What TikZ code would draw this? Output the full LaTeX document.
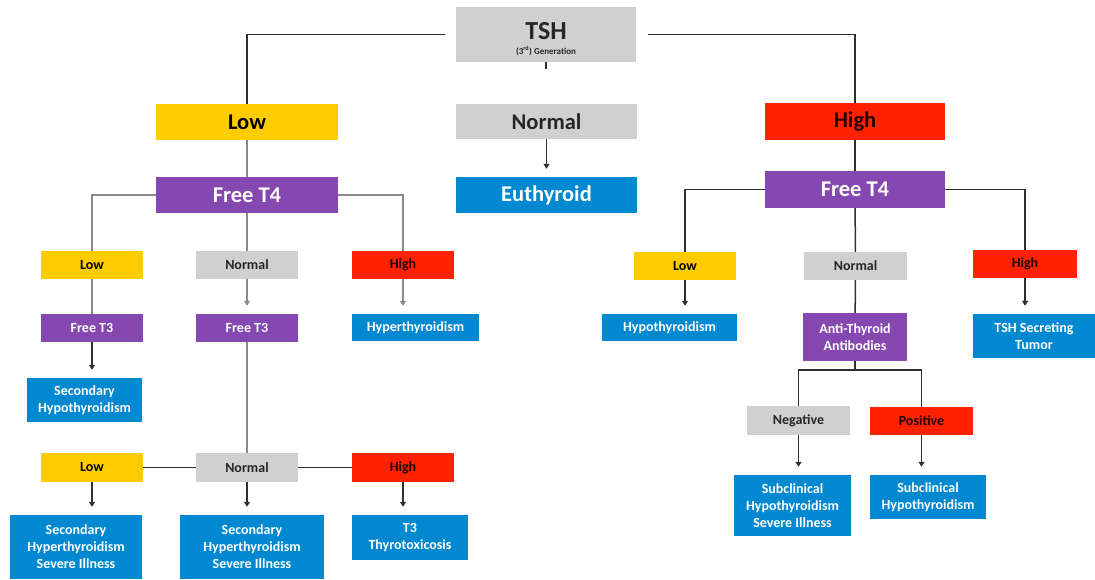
\documentclass[tikz,border=0pt]{standalone}
\usepackage{fontspec}
\setmainfont{Carlito}
\usetikzlibrary{arrows.meta}
\definecolor{cyel}{HTML}{FFCC00}
\definecolor{cgry}{HTML}{D0D0D0}
\definecolor{cred}{HTML}{FF2200}
\definecolor{cpur}{HTML}{8547B0}
\definecolor{cblu}{HTML}{0088D0}
\definecolor{lgray}{HTML}{8A8A8A}
\definecolor{ldark}{HTML}{303030}
\tikzset{
  bx/.style={inner sep=0pt, align=center, font=\bfseries},
  big/.style={bx, font=\fontsize{22.5}{24}\selectfont\bfseries},
  sml/.style={bx, font=\fontsize{14}{17}\selectfont\bfseries},
  yel/.style={fill=cyel, text=black},
  gry/.style={fill=cgry, text=black!85},
  red/.style={fill=cred, text=black!85!red},
  pur/.style={fill=cpur, text=white},
  blu/.style={fill=cblu, text=white},
  sz/.style 2 args={minimum width=#1pt, minimum height=#2pt},
  gl/.style={draw=lgray, line width=1.5pt},
  dl/.style={draw=ldark, line width=1.5pt},
  arr/.style={-{Triangle[length=5pt,width=6pt]}, shorten >=8pt},
}
\begin{document}
\begin{tikzpicture}[x=1pt, y=-1pt]
\useasboundingbox (0,0) rectangle (1095,579);
% top
\node[bx, gry, sz={180}{55}] (tsh) at (546,34.5) {\rule{0pt}{26pt}{\fontsize{26}{26}\selectfont TSH}\\[3pt]{\fontsize{9}{10}\selectfont (3\textsuperscript{rd}) Generation}};
\node[big, yel, sz={182}{36}] (low1) at (247,122) {Low};
\node[big, gry, sz={181}{35}] (norm1) at (546.5,121.5) {Normal};
\node[big, red, sz={180}{37}] (high1) at (855,121.5) {High};
\node[big, pur, sz={182}{36}] (ft4L) at (247,195) {Free T4};
\node[big, blu, sz={181}{36}] (euth) at (546.5,195) {Euthyroid};
\node[big, pur, sz={180}{37}] (ft4R) at (855,189.5) {Free T4};
% left level 2
\node[sml, yel, sz={102}{28}] (lowL2) at (92,265) {Low};
\node[sml, gry, sz={102}{28}] (normL2) at (247,265) {Normal};
\node[sml, red, sz={102}{28}] (highL2) at (403,265) {High};
\node[sml, pur, sz={102}{28}] (ft3a) at (92,328) {Free T3};
\node[sml, pur, sz={102}{28}] (ft3b) at (247,328) {Free T3};
\node[sml, blu, sz={127}{27}] (hyper) at (415.5,327.5) {Hyperthyroidism};
\node[sml, blu, sz={115}{44}] (secHypo) at (84.5,400) {Secondary\\Hypothyroidism};
% left level 4
\node[sml, yel, sz={102}{29}] (lowL4) at (92,467.5) {Low};
\node[sml, gry, sz={102}{29}] (normL4) at (247,467.5) {Normal};
\node[sml, red, sz={102}{29}] (highL4) at (403,467.5) {High};
\node[sml, blu, sz={132}{64}] (b1) at (76,547) {Secondary\\Hyperthyroidism\\Severe Illness};
\node[sml, blu, sz={144}{64}] (b2) at (252,547) {Secondary\\Hyperthyroidism\\Severe Illness};
\node[sml, blu, sz={116}{45}] (b3) at (410,537.5) {T3\\Thyrotoxicosis};
% right
\node[sml, yel, sz={102}{28}] (lowR2) at (685,266) {Low};
\node[sml, gry, sz={103}{28}] (normR2) at (855.5,266) {Normal};
\node[sml, red, sz={104}{28}] (highR2) at (1025,264) {High};
\node[sml, blu, sz={135}{27}] (hypoR) at (669.5,327.5) {Hypothyroidism};
\node[sml, pur, sz={104}{48}] (anti) at (855,337) {Anti-Thyroid\\Antibodies};
\node[sml, blu, sz={122}{44}] (tumor) at (1034,336) {TSH Secreting\\Tumor};
\node[sml, gry, sz={103}{29}] (neg) at (798.5,420.5) {Negative};
\node[sml, red, sz={103}{28}] (pos) at (921.5,421) {Positive};
\node[sml, blu, sz={117}{61}] (sub1) at (792.5,505.5) {Subclinical\\Hypothyroidism\\Severe Illness};
\node[sml, blu, sz={116}{44}] (sub2) at (928,497) {Subclinical\\Hypothyroidism};
% connectors
\coordinate (tick) at (546,69);
\coordinate (j) at (855,370);
\draw[dl] ([xshift=-11pt]tsh.west) -| (low1.north);
\draw[dl] ([xshift=12pt]tsh.east) -| (high1.north);
\draw[dl] (tsh.south) -- (tick);
\draw[gl] (low1) -- (ft4L);
\draw[dl,arr] (norm1) -- (euth);
\draw[dl] (high1) -- (ft4R);
\draw[gl] (ft4L.west) -| (lowL2.north);
\draw[gl] (ft4L) -- (normL2);
\draw[gl] (ft4L.east) -| (highL2.north);
\draw[gl] (lowL2) -- (ft3a);
\draw[gl,arr] (normL2) -- (ft3b);
\draw[gl,arr] (highL2.south) -- (highL2.south |- hyper.north);
\draw[dl,arr] (ft3a.south) -- (ft3a.south |- secHypo.north);
\draw[gl] (ft3b) -- (normL4);
\draw[dl] (lowL4) -- (normL4);
\draw[dl] (normL4) -- (highL4);
\draw[dl,arr] (lowL4.south) -- (lowL4.south |- b1.north);
\draw[dl,arr] (normL4.south) -- (normL4.south |- b2.north);
\draw[dl,arr] (highL4.south) -- (highL4.south |- b3.north);
\draw[dl] (ft4R.west) -| (lowR2.north);
\draw[dl] (ft4R) -- (normR2);
\draw[dl] (ft4R.east) -| (highR2.north);
\draw[dl,arr] (lowR2.south) -- (lowR2.south |- hypoR.north);
\draw[dl] (normR2) -- (anti);
\draw[dl,arr] (highR2.south) -- (highR2.south |- tumor.north);
\draw[dl] (anti.south) -- (j);
\draw[dl] (neg.north) |- (j) -| (pos.north);
\draw[dl,arr] (neg.south) -- (neg.south |- sub1.north);
\draw[dl,arr] (pos.south) -- (pos.south |- sub2.north);
\end{tikzpicture}
\end{document}
